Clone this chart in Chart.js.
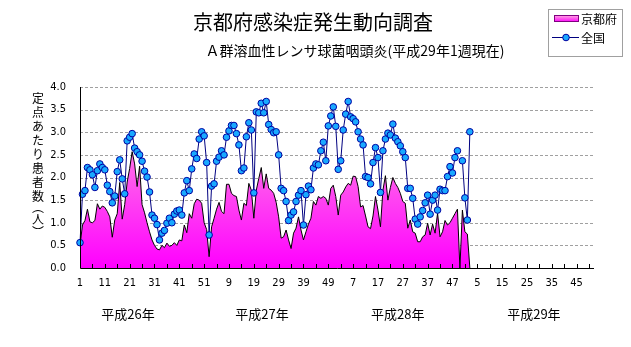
<!DOCTYPE html>
<html><head><meta charset="utf-8">
<script src="https://cdn.jsdelivr.net/npm/chart.js@4.4.1/dist/chart.umd.min.js"></script>
<style>html,body{margin:0;padding:0;background:#fff;}canvas{display:block;}</style>
</head><body>
<canvas id="c" width="631" height="347"></canvas>
<script>
const titleText = '京都府感染症発生動向調査';
const subtitleText = 'Ａ群溶血性レンサ球菌咽頭炎(平成29年1週現在)';
const seriesNames = ['京都府', '全国'];
const yTitleChars = ['定','点','あ','た','り','患','者','数','︵','人','︶'];
const yearLabels = ['平成26年', '平成27年', '平成28年', '平成29年'];
const yearLabelPos = [19.3, 73.3, 128, 182.8];
const xTickLabels = ['1','11','21','31','41','51','9','19','29','39','49','7','17','27','37','47','5','15','25','35','45'];
const yTicks = [0, 0.5, 1.0, 1.5, 2.0, 2.5, 3.0, 3.5, 4.0];
const weeksPerYear = 52, yearsShown = 4;

const kyoto = [
 0.5,0.95,1.05,1.3,1.02,1.0,1.05,1.42,1.3,1.37,
 1.34,1.25,1.13,0.68,1.06,1.2,1.89,1.08,1.4,1.9,
 2.2,2.57,2.3,1.8,2.25,1.4,1.22,1.0,0.8,0.62,
 0.5,0.42,0.4,0.5,0.45,0.55,0.48,0.5,0.56,0.5,
 0.62,0.6,0.95,0.78,1.2,1.1,1.42,1.52,1.5,1.43,
 1.0,0.85,0.25,0.91,1.1,1.3,1.45,1.25,1.2,1.85,
 1.85,1.65,1.6,1.58,1.28,1.06,1.43,1.38,1.87,1.72,
 1.1,1.72,1.98,2.22,1.76,2.08,1.76,1.72,1.65,1.45,
 1.13,0.66,0.69,0.84,0.62,0.43,0.77,0.88,1.13,0.84,
 0.62,0.8,0.97,1.1,1.47,1.39,1.58,1.54,1.58,1.54,
 1.39,1.76,1.83,1.58,1.17,1.61,1.68,1.79,1.87,1.83,
 2.03,2.02,1.8,1.35,1.38,1.15,0.91,0.87,1.15,1.58,
 1.28,0.91,1.72,2.04,1.5,1.78,2.0,1.87,1.78,1.65,
 1.47,1.43,0.88,1.06,0.8,0.77,0.58,0.58,0.69,0.73,
 0.99,0.73,0.97,0.77,1.21,0.69,0.8,1.05,0.95,1.0,
 1.1,1.2,1.3,0,1.28,0.8,0.75,0
];
const zenkoku = [
 0.56,1.63,1.71,2.22,2.17,2.06,1.78,2.15,2.30,2.22,
 2.17,1.83,1.69,1.44,1.59,2.13,2.39,1.97,1.64,2.81,
 2.89,2.97,2.65,2.57,2.50,2.36,2.14,2.01,1.68,1.17,
 1.10,0.96,0.62,0.77,0.83,0.99,1.10,1.00,1.19,1.26,
 1.28,1.17,1.66,1.93,1.71,2.19,2.52,2.42,2.85,3.01,
 2.92,2.33,0.73,1.81,1.86,2.36,2.45,2.59,2.50,2.89,
 3.03,3.15,3.15,2.97,2.72,2.15,2.21,2.90,3.21,3.05,
 1.66,3.45,3.43,3.64,3.43,3.68,3.17,3.06,2.99,3.01,
 2.50,1.76,1.71,1.47,1.05,1.17,1.24,1.47,1.61,1.71,
 0.95,1.62,1.81,1.73,2.21,2.30,2.28,2.59,2.78,2.37,
 3.14,3.36,3.56,3.13,2.18,2.37,3.05,3.40,3.68,3.34,
 3.30,3.23,3.01,2.85,2.72,2.02,2.00,1.86,2.33,2.66,
 2.44,1.67,2.59,2.85,2.98,2.94,3.18,2.87,2.79,2.70,
 2.57,2.44,1.76,1.76,1.54,1.08,0.97,1.13,1.27,1.44,
 1.61,1.19,1.50,1.61,1.28,1.74,1.71,1.71,2.02,2.24,
 2.10,2.44,2.59,null,2.37,1.55,1.06,3.01
];

const categories = [];
for (let y = 0; y < yearsShown; y++) for (let w = 1; w <= weeksPerYear; w++) categories.push(String(w));

const numFont = '"Liberation Sans Narrow","DejaVu Sans Condensed",sans-serif';
const jpFont = '"Noto Sans CJK JP","Noto Sans CJK SC",sans-serif';

function pinkGrad(ctx, top, bottom) {
  const g = ctx.createLinearGradient(0, top, 0, bottom);
  g.addColorStop(0, '#ffb0dc');
  g.addColorStop(1, '#ff00ff');
  return g;
}

const decor = {
  id: 'decor',
  beforeDatasetsDraw(chart) {
    const {ctx, chartArea: a, scales: {y}} = chart;
    ctx.save();
    ctx.strokeStyle = '#a0a0a0';
    ctx.lineWidth = 1;
    ctx.setLineDash([3, 2]);
    yTicks.forEach(v => {
      if (v === 0) return;
      const py = Math.round(y.getPixelForValue(v)) + 0.5;
      ctx.beginPath(); ctx.moveTo(a.left, py); ctx.lineTo(a.right, py); ctx.stroke();
    });
    ctx.restore();
  },
  afterDatasetsDraw(chart) {
    const {ctx, chartArea: a, scales: {x}} = chart;
    ctx.save();
    ctx.strokeStyle = '#000';
    ctx.lineWidth = 1;
    ctx.beginPath();
    ctx.moveTo(a.left + 0.5, a.top); ctx.lineTo(a.left + 0.5, a.bottom + 0.5);
    ctx.lineTo(a.right, a.bottom + 0.5);
    ctx.stroke();
    for (let i = 0; i < categories.length; i += 5) {
      const px = Math.round(x.getPixelForValue(i)) + 0.5;
      ctx.beginPath(); ctx.moveTo(px, a.bottom); ctx.lineTo(px, a.bottom - 4); ctx.stroke();
    }
    ctx.restore();
  },
  afterDraw(chart) {
    const {ctx, scales: {x}} = chart;
    ctx.save();
    ctx.fillStyle = '#000';
    ctx.textAlign = 'center';
    ctx.textBaseline = 'middle';
    ctx.font = '20px ' + jpFont;
    ctx.fillText(titleText, 313, 22);
    ctx.font = '14px ' + jpFont;
    ctx.fillText(subtitleText, 355, 51);
    // y title (vertical)
    ctx.font = '12px ' + jpFont;
    const yPos = [98,112,126,140,154,168,182,196,207,219,232];
    yTitleChars.forEach((c, k) => ctx.fillText(c, 38, yPos[k]));
    // year labels
    ctx.font = '13px ' + jpFont;
    yearLabels.forEach((t, k) => ctx.fillText(t, x.getPixelForValue(yearLabelPos[k]), 314));
    // legend
    ctx.strokeStyle = '#a0a0a0';
    ctx.lineWidth = 1;
    ctx.fillStyle = '#fff';
    ctx.fillRect(548.5, 9.5, 74, 47);
    ctx.strokeRect(548.5, 9.5, 74, 47);
    ctx.fillStyle = pinkGrad(ctx, 15, 22);
    ctx.fillRect(554.5, 15.5, 24, 6);
    ctx.strokeStyle = '#800080';
    ctx.strokeRect(554.5, 15.5, 24, 6);
    ctx.strokeStyle = '#000080';
    ctx.beginPath(); ctx.moveTo(552, 37.5); ctx.lineTo(579, 37.5); ctx.stroke();
    ctx.beginPath(); ctx.arc(566, 37.5, 3.3, 0, Math.PI * 2);
    ctx.fillStyle = '#19a9ff'; ctx.fill();
    ctx.strokeStyle = '#0000a0'; ctx.stroke();
    ctx.fillStyle = '#000';
    ctx.textAlign = 'left';
    ctx.font = '12px ' + jpFont;
    ctx.fillText(seriesNames[0], 581, 19);
    ctx.fillText(seriesNames[1], 581, 38);
    ctx.restore();
  }
};

new Chart(document.getElementById('c'), {
  type: 'line',
  data: {
    labels: categories,
    datasets: [
      {
        label: seriesNames[1],
        data: zenkoku,
        order: 0,
        borderColor: '#000080',
        borderWidth: 1,
        pointRadius: 3.3,
        pointBackgroundColor: '#19a9ff',
        pointBorderColor: '#0000a0',
        pointBorderWidth: 1,
        spanGaps: false,
        tension: 0,
        fill: false
      },
      {
        label: seriesNames[0],
        data: kyoto,
        order: 1,
        borderColor: '#000',
        borderWidth: 1,
        pointRadius: 0,
        tension: 0,
        fill: 'origin',
        backgroundColor: (c) => {
          const a = c.chart.chartArea;
          if (!a) return '#ff66dd';
          return pinkGrad(c.chart.ctx, a.top, a.bottom);
        }
      }
    ]
  },
  options: {
    responsive: false,
    animation: false,
    devicePixelRatio: 1,
    layout: {padding: {top: 87, right: 37, left: 0, bottom: 0}},
    plugins: {legend: {display: false}, tooltip: {enabled: false}, title: {display: false}},
    scales: {
      x: {
        type: 'category',
        offset: false,
        grid: {display: false, drawTicks: false},
        border: {display: false},
        ticks: {
          autoSkip: false, maxRotation: 0, minRotation: 0, padding: 9,
          color: '#000', font: {family: numFont, size: 11},
          callback: (v, i) => (i % 10 === 0 ? xTickLabels[i / 10] : '')
        },
        afterFit(s) { s.height = 79; }
      },
      y: {
        min: 0, max: 4,
        grid: {display: false, drawTicks: false},
        border: {display: false},
        ticks: {
          stepSize: 0.5, padding: 14, color: '#000', font: {family: numFont, size: 11},
          callback: (v) => Number(v).toFixed(1)
        },
        afterFit(s) { s.width = 80; }
      }
    }
  },
  plugins: [decor]
});
</script>
</body></html>
